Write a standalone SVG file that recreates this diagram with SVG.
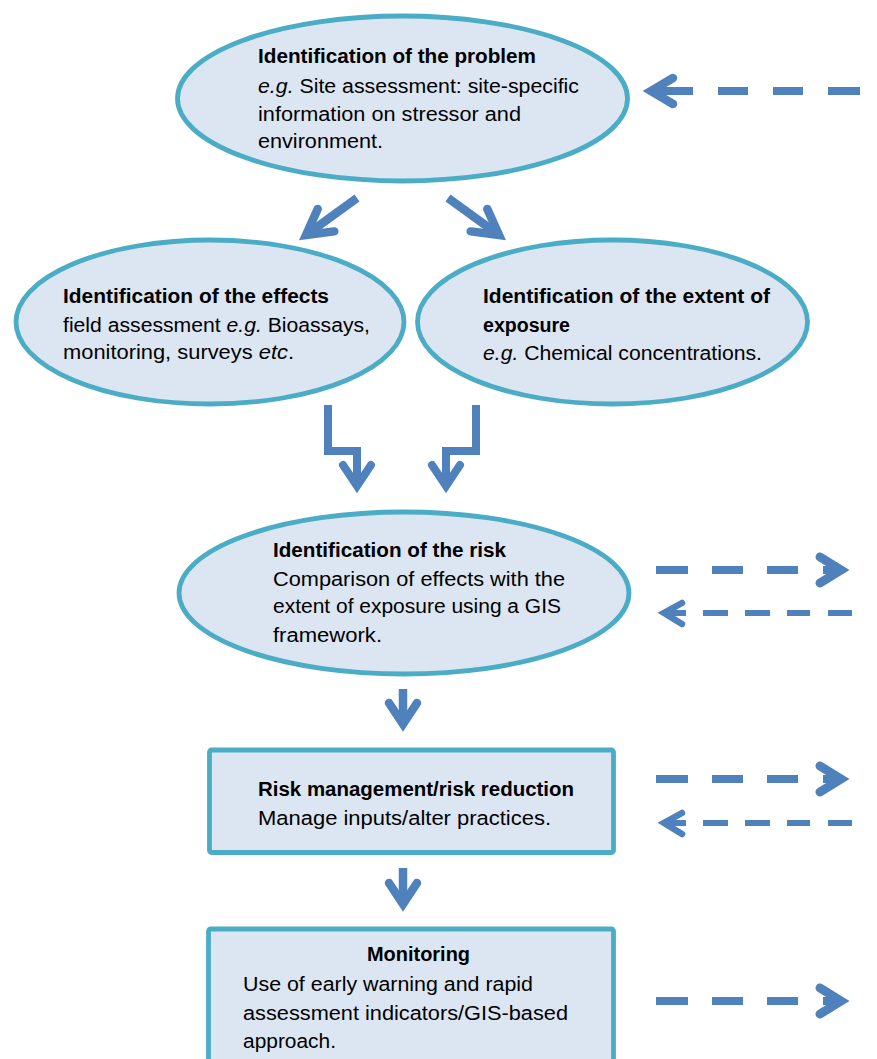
<svg xmlns="http://www.w3.org/2000/svg" width="877" height="1059" viewBox="0 0 877 1059">
<style>
.node{fill:#DCE6F2;stroke:#4BACC6;stroke-width:4.8}
text{font-family:"Liberation Sans",Arial,sans-serif;font-size:20px;fill:#000}
.b{font-weight:bold}
.i{font-style:italic}
.sh{fill:none;stroke:#4F81BD;stroke-linecap:butt;stroke-linejoin:miter}
.hd{fill:none;stroke:#4F81BD;stroke-linecap:round;stroke-linejoin:miter;stroke-miterlimit:10}
</style>
<rect width="877" height="1059" fill="#fff"/>
<g id="problem">
<ellipse class="node" cx="402.5" cy="98.5" rx="225" ry="82.5"/>
<text class="b" x="258" y="63" textLength="278" lengthAdjust="spacingAndGlyphs">Identification of the problem</text>
<text x="258" y="93" textLength="321" lengthAdjust="spacingAndGlyphs"><tspan class="i">e.g.</tspan> Site assessment: site-specific</text>
<text x="258" y="121" textLength="263" lengthAdjust="spacingAndGlyphs">information on stressor and</text>
<text x="258" y="148" textLength="125" lengthAdjust="spacingAndGlyphs">environment.</text>
</g>
<g id="effects">
<ellipse class="node" cx="210" cy="322" rx="194" ry="82"/>
<text class="b" x="63" y="303" textLength="266" lengthAdjust="spacingAndGlyphs">Identification of the effects</text>
<text x="63" y="332" textLength="307" lengthAdjust="spacingAndGlyphs">field assessment <tspan class="i">e.g.</tspan> Bioassays,</text>
<text x="63" y="359" textLength="231" lengthAdjust="spacingAndGlyphs">monitoring, surveys <tspan class="i">etc</tspan>.</text>
</g>
<g id="exposure">
<ellipse class="node" cx="612.5" cy="322" rx="195" ry="82"/>
<text class="b" x="483" y="303" textLength="287" lengthAdjust="spacingAndGlyphs">Identification of the extent of</text>
<text class="b" x="483" y="332" textLength="87" lengthAdjust="spacingAndGlyphs">exposure</text>
<text x="483" y="360" textLength="279" lengthAdjust="spacingAndGlyphs"><tspan class="i">e.g.</tspan> Chemical concentrations.</text>
</g>
<g id="risk">
<ellipse class="node" cx="404" cy="593" rx="225" ry="81"/>
<text class="b" x="273" y="557" textLength="233" lengthAdjust="spacingAndGlyphs">Identification of the risk</text>
<text x="273" y="586" textLength="292" lengthAdjust="spacingAndGlyphs">Comparison of effects with the</text>
<text x="273" y="613" textLength="288" lengthAdjust="spacingAndGlyphs">extent of exposure using a GIS</text>
<text x="273" y="642" textLength="109" lengthAdjust="spacingAndGlyphs">framework.</text>
</g>
<g id="management">
<rect class="node" x="209.5" y="750" width="404" height="102.5" rx="2"/>
<text class="b" x="258" y="796" textLength="316" lengthAdjust="spacingAndGlyphs">Risk management/risk reduction</text>
<text x="258" y="825" textLength="293" lengthAdjust="spacingAndGlyphs">Manage inputs/alter practices.</text>
</g>
<g id="monitoring">
<rect class="node" x="208.5" y="929" width="405" height="145" rx="2"/>
<text class="b" x="367" y="961" textLength="103" lengthAdjust="spacingAndGlyphs">Monitoring</text>
<text x="243" y="991" textLength="290" lengthAdjust="spacingAndGlyphs">Use of early warning and rapid</text>
<text x="243" y="1020" textLength="325" lengthAdjust="spacingAndGlyphs">assessment indicators/GIS-based</text>
<text x="243" y="1048" textLength="93" lengthAdjust="spacingAndGlyphs">approach.</text>
</g>
<g id="connectors">
<path class="sh" stroke-width="8.5" d="M357 198L306 235"/>
<polyline class="hd" stroke-width="8.5" points="317.7,209 306,235 334.3,231.4"/>
<path class="sh" stroke-width="8.5" d="M448 198L499 235"/>
<polyline class="hd" stroke-width="8.5" points="487.3,209 499,235 470.7,231.4"/>
<path class="sh" stroke-width="8" d="M328 405V451H357V486"/>
<polyline class="hd" stroke-width="8" points="343,465 357,486 371,465"/>
<path class="sh" stroke-width="8" d="M476 405V451H446V486"/>
<polyline class="hd" stroke-width="8" points="432,465 446,486 460,465"/>
<path class="sh" stroke-width="8.5" d="M403 689V724"/>
<polyline class="hd" stroke-width="8.5" points="389,703 403,724 417,703"/>
<path class="sh" stroke-width="8.5" d="M403 868V904"/>
<polyline class="hd" stroke-width="8.5" points="389,883 403,904 417,883"/>
<path class="sh" stroke-width="8" d="M652 91H693M718 91H748M773 91H803M828 91H860"/>
<polyline class="hd" stroke-width="8.5" points="673,78 651,91 673,104"/>
<path class="sh" stroke-width="8" d="M656 570H688M712 570H743M767 570H798M823 570H842"/>
<polyline class="hd" stroke-width="9" points="820,557 841,570 820,583"/>
<path class="sh" stroke-width="6" d="M664 613H686M703 613H728M745 613H770M787 613H810M828 613H852"/>
<polyline class="hd" stroke-width="6.5" points="682,603 664,613 682,624"/>
<path class="sh" stroke-width="8" d="M656 779H688M712 779H743M767 779H798M823 779H842"/>
<polyline class="hd" stroke-width="9" points="820,766 841,779 820,792"/>
<path class="sh" stroke-width="6" d="M664 823H686M703 823H728M745 823H770M787 823H810M828 823H852"/>
<polyline class="hd" stroke-width="6.5" points="682,813 664,823 682,834"/>
<path class="sh" stroke-width="8" d="M656 1001H688M712 1001H743M767 1001H798M823 1001H842"/>
<polyline class="hd" stroke-width="9" points="820,988 841,1001 820,1014"/>
</g>
</svg>
